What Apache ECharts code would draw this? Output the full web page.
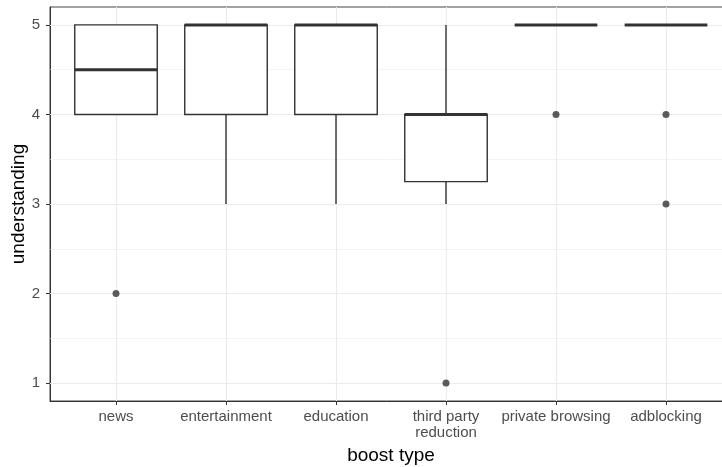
<!DOCTYPE html>
<html>
<head>
<meta charset="utf-8">
<script src="https://cdn.jsdelivr.net/npm/echarts@6/dist/echarts.min.js"></script>
<style>html,body{margin:0;padding:0;background:#fff}#c{width:722px;height:467px}</style>
</head>
<body>
<div id="c"></div>
<script>
// categories and box statistics (min, Q1, median, Q3, max)
var categories = ['news', 'entertainment', 'education', 'third party\nreduction', 'private browsing', 'adblocking'];
var whiskerLow = [4, 3, 3, 3, 5, 5];
var q1 = [4, 4, 4, 3.25, 5, 5];
var median = [4.5, 5, 5, 4, 5, 5];
var q3 = [5, 5, 5, 4, 5, 5];
var whiskerHigh = [5, 5, 5, 5, 5, 5];
// outliers: [category index (1-based), value]
var outliers = [[1, 2], [4, 1], [5, 4], [6, 4], [6, 3]];
var yTicks = [1, 2, 3, 4, 5];
var yMinor = [1.5, 2.5, 3.5, 4.5];

var boxData = categories.map(function (c, i) {
  return [i + 1, whiskerLow[i], q1[i], median[i], q3[i], whiskerHigh[i]];
});
var xTicks = categories.map(function (c, i) { return i + 1; });

var ink = '#333333';
var gridMarks = [];
yTicks.forEach(function (v) { gridMarks.push({ yAxis: v, lineStyle: { color: '#EBEBEB', width: 1.1, type: 'solid' } }); });
yMinor.forEach(function (v) { gridMarks.push({ yAxis: v, lineStyle: { color: '#EBEBEB', width: 0.55, type: 'solid' } }); });
xTicks.forEach(function (v) { gridMarks.push({ xAxis: v, lineStyle: { color: '#EBEBEB', width: 1.1, type: 'solid' } }); });

var chart = echarts.init(document.getElementById('c'), null, { renderer: 'canvas' });
chart.setOption({
  animation: false,
  backgroundColor: '#ffffff',
  textStyle: { fontFamily: 'Liberation Sans, Arial, sans-serif' },
  grid: { left: 50, right: -10, top: 7, bottom: 66, containLabel: false, outerBoundsMode: 'none', show: true, borderColor: '#444444', borderWidth: 1, backgroundColor: '#ffffff' },
  xAxis: {
    type: 'value', min: 0.4, max: 6.6,
    name: 'boost type', nameLocation: 'middle', nameGap: 45, nameMoveOverlap: false,
    nameTextStyle: { color: '#000', fontSize: 19, fontFamily: 'Liberation Sans, Arial, sans-serif' },
    axisLine: { show: true, lineStyle: { color: ink, width: 1 } },
    axisTick: { show: true, length: 4, lineStyle: { color: ink, width: 1 }, customValues: xTicks },
    axisLabel: {
      customValues: xTicks, margin: 8, color: '#4D4D4D', fontSize: 15, lineHeight: 16,
      fontFamily: 'Liberation Sans, Arial, sans-serif',
      formatter: function (v) { return categories[Math.round(v) - 1] || ''; }
    },
    splitLine: { show: false }
  },
  yAxis: {
    type: 'value', min: 0.8, max: 5.2,
    name: 'understanding', nameLocation: 'middle', nameGap: 22, nameRotate: 90, nameMoveOverlap: false,
    nameTextStyle: { color: '#000', fontSize: 19, fontFamily: 'Liberation Sans, Arial, sans-serif' },
    axisLine: { show: true, lineStyle: { color: ink, width: 1 } },
    axisTick: { show: true, length: 4, lineStyle: { color: ink, width: 1 }, customValues: yTicks },
    axisLabel: { customValues: yTicks, margin: 10, color: '#4D4D4D', fontSize: 15, fontFamily: 'Liberation Sans, Arial, sans-serif' },
    splitLine: { show: false }
  },
  series: [
    {
      type: 'scatter', data: [], z: 1, silent: true,
      markLine: { z: 1, silent: true, symbol: ['none', 'none'], label: { show: false }, animation: false, data: gridMarks }
    },
    {
      type: 'custom', z: 3,
      data: boxData,
      encode: { x: 0, y: [1, 2, 3, 4, 5] },
      renderItem: function (params, api) {
        var x = api.value(0);
        var half = api.size([0.75, 0])[0] / 2;
        var pMin = api.coord([x, api.value(1)]);
        var pQ1 = api.coord([x, api.value(2)]);
        var pMed = api.coord([x, api.value(3)]);
        var pQ3 = api.coord([x, api.value(4)]);
        var pMax = api.coord([x, api.value(5)]);
        var st = { stroke: ink, lineWidth: 1.4, fill: null };
        return {
          type: 'group',
          children: [
            { type: 'line', shape: { x1: pQ3[0], y1: pQ3[1], x2: pMax[0], y2: pMax[1] }, style: st },
            { type: 'line', shape: { x1: pQ1[0], y1: pQ1[1], x2: pMin[0], y2: pMin[1] }, style: st },
            { type: 'rect', shape: { x: pQ3[0] - half, y: pQ3[1], width: half * 2, height: pQ1[1] - pQ3[1] }, style: { stroke: ink, lineWidth: 1.4, fill: '#ffffff' } },
            { type: 'line', shape: { x1: pMed[0] - half, y1: pMed[1], x2: pMed[0] + half, y2: pMed[1] }, style: { stroke: ink, lineWidth: 3, lineCap: 'butt' } }
          ]
        };
      }
    },
    {
      type: 'scatter', z: 4, data: outliers, symbol: 'circle', symbolSize: 7,
      itemStyle: { color: ink }
    }
  ]
});
</script>
</body>
</html>
